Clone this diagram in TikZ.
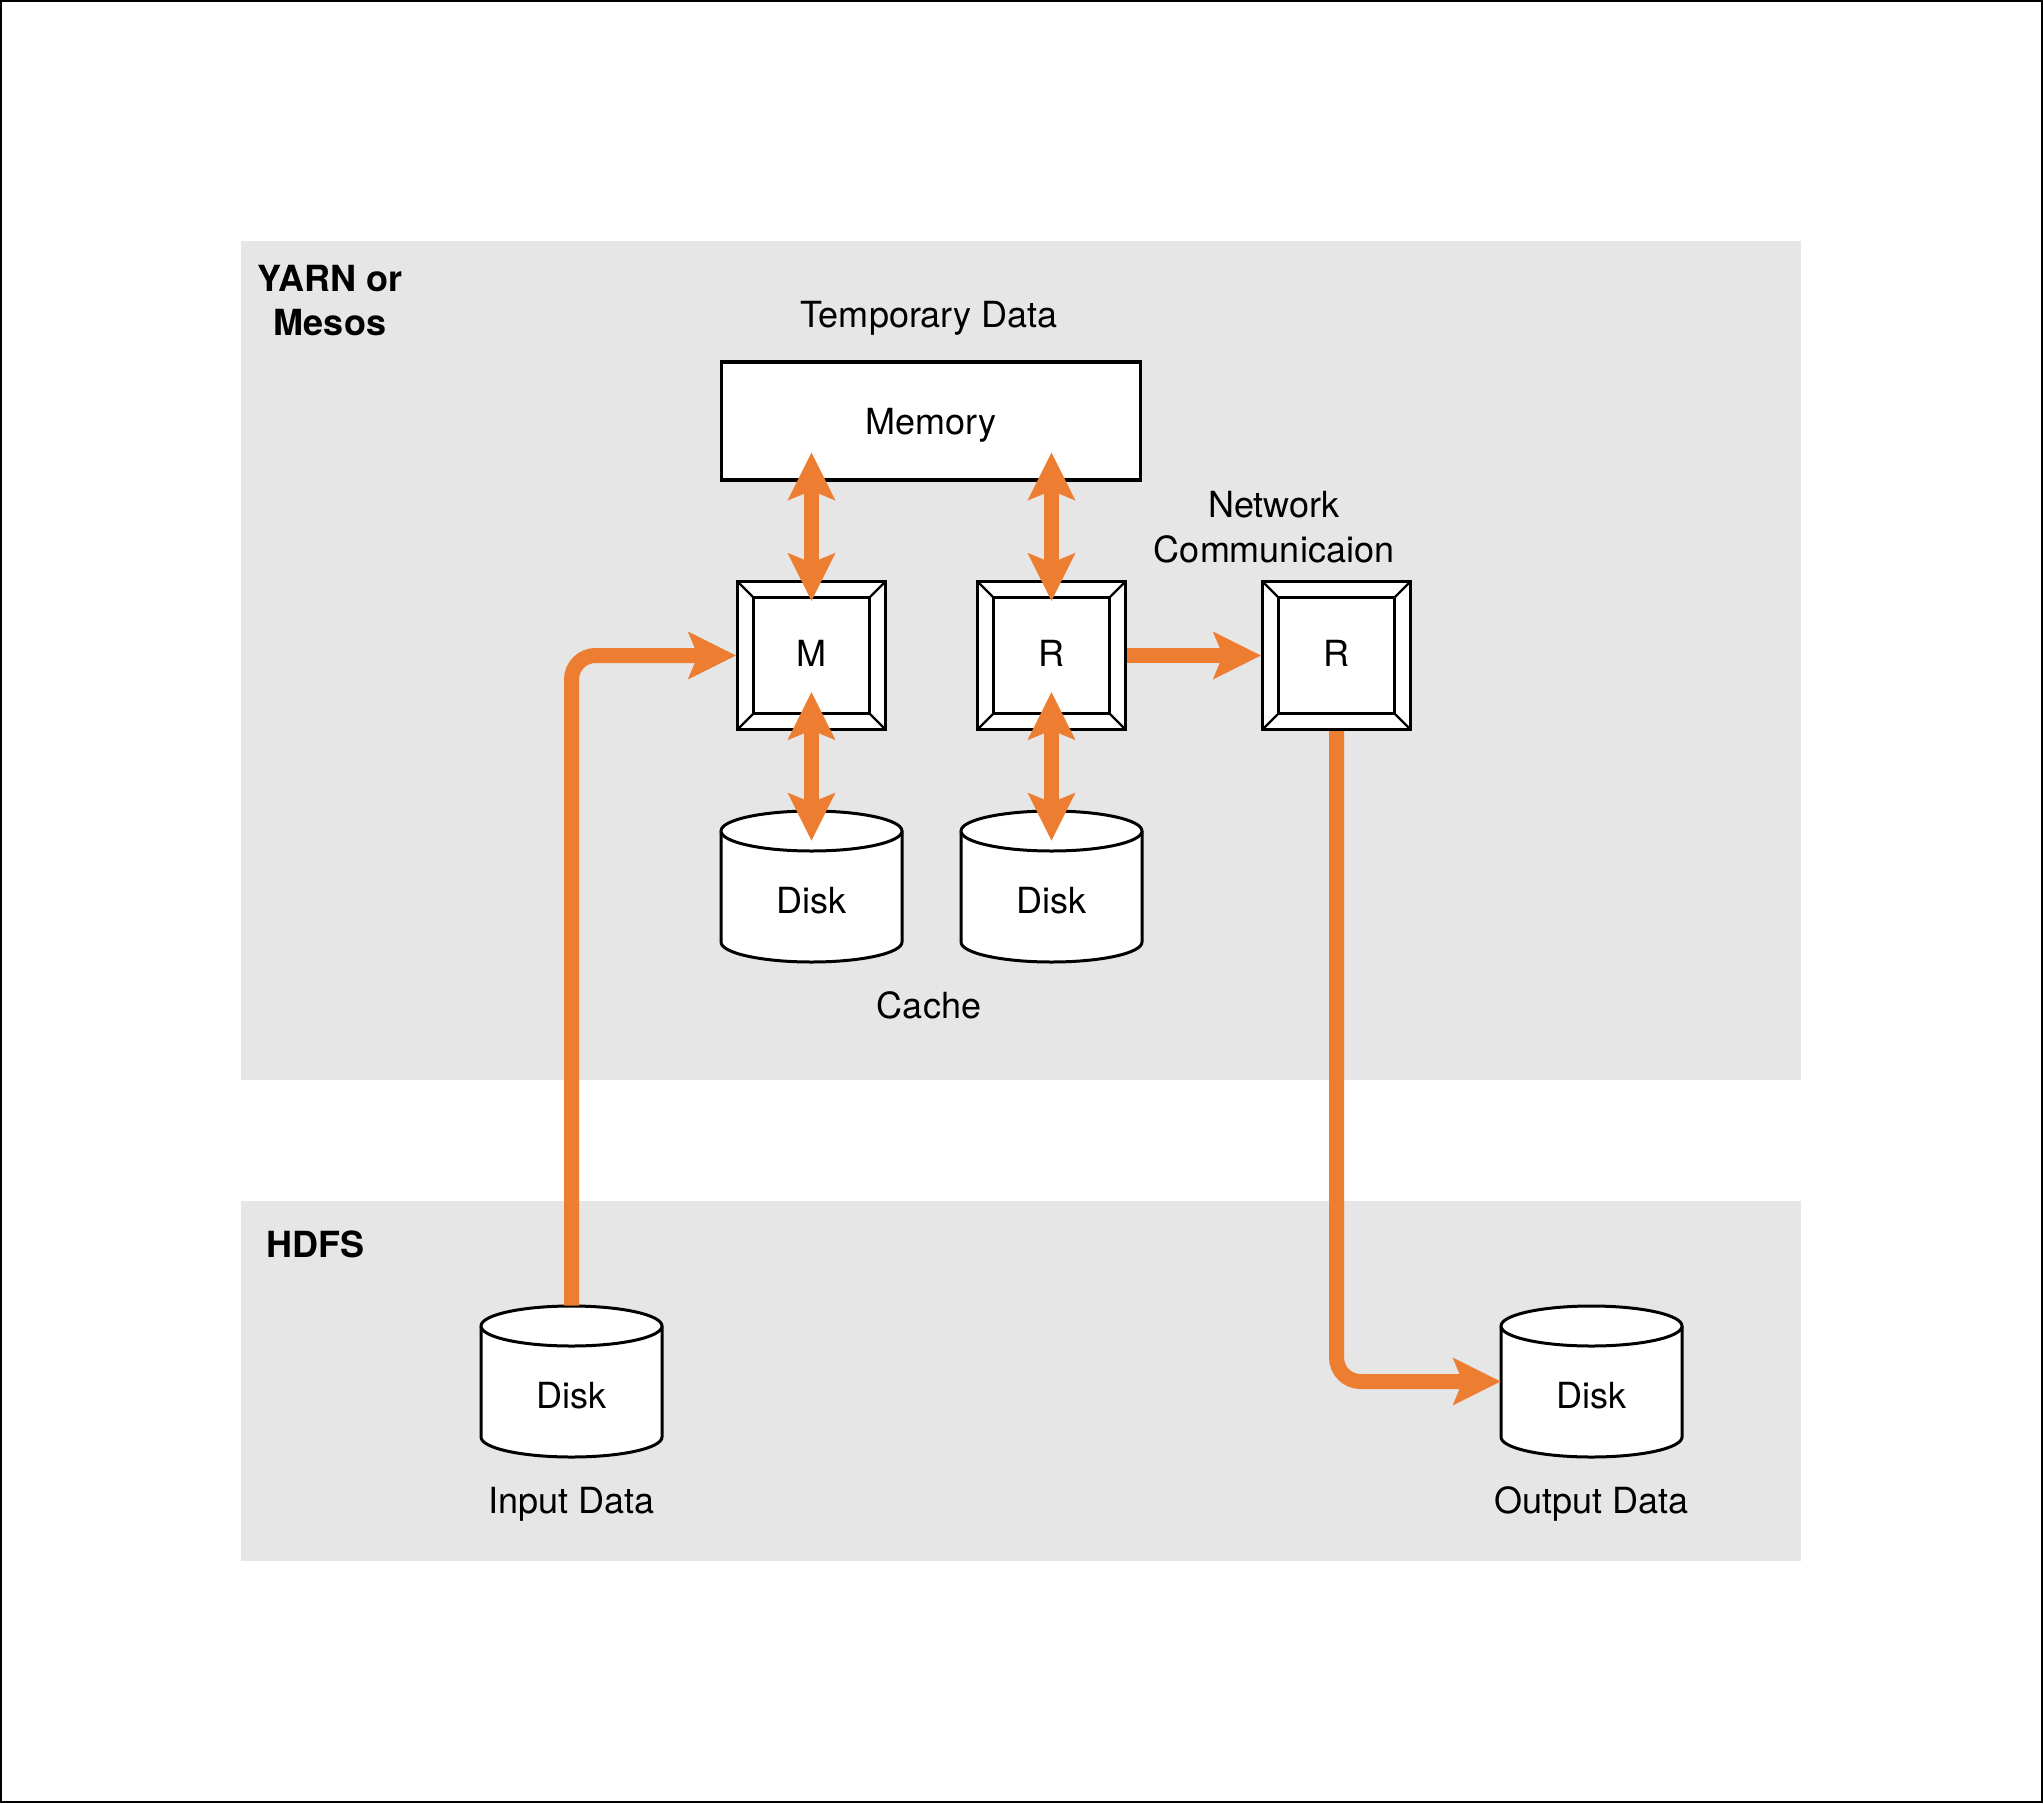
\documentclass[tikz,border=0pt]{standalone}
\usepackage{fontspec}
\setmainfont{TeX Gyre Heros}
\usetikzlibrary{arrows.meta}
\definecolor{flowc}{HTML}{ED7D31}
\definecolor{panelc}{HTML}{E6E6E6}

% Cylinder-shaped disk: #1 name, #2 centre x, #3 centre y (in px units)
\newcommand\cyldisk[3]{%
  \filldraw[diskline] (#2-90.5,#3-55.5) -- (#2-90.5,#3+55.5)
    .. controls (#2-90.5,#3+66.55) and (#2-49.98,#3+75.5) .. (#2,#3+75.5)
    .. controls (#2+49.98,#3+75.5) and (#2+90.5,#3+66.55) .. (#2+90.5,#3+55.5)
    -- (#2+90.5,#3-55.5)
    .. controls (#2+90.5,#3-66.55) and (#2+49.98,#3-75.5) .. (#2,#3-75.5)
    .. controls (#2-49.98,#3-75.5) and (#2-90.5,#3-66.55) .. (#2-90.5,#3-55.5) -- cycle;
  \draw[diskline] (#2-90.5,#3-55.5)
    .. controls (#2-90.5,#3-44.45) and (#2-49.98,#3-35.5) .. (#2,#3-35.5)
    .. controls (#2+49.98,#3-35.5) and (#2+90.5,#3-44.45) .. (#2+90.5,#3-55.5);
  \node[diskspot, label={[lbl,yshift=-7.2pt]center:Disk}] (#1) at (#2,#3) {};
}

\begin{document}
\begin{tikzpicture}[x=0.5pt,y=-0.5pt,
  lbl/.style={font=\fontsize{18}{22.5}\selectfont, align=center, inner sep=0pt},
  title/.style={lbl, font=\fontsize{18}{22}\selectfont\bfseries},
  panel/.style={fill=panelc, draw=none},
  diskline/.style={draw=black, fill=white, line width=1.5pt, line join=round},
  diskspot/.style={minimum width=90.5pt, minimum height=75.5pt, inner sep=0pt},
  membox/.style={draw, fill=white, line width=1.6pt, minimum width=209.5pt,
    minimum height=59pt, inner sep=0pt, text depth=0pt,
    font=\fontsize{18}{22}\selectfont},
  bevel/.style={draw, fill=white, line width=1.7pt, minimum size=74pt, inner sep=0pt,
    text depth=2.5pt, font=\fontsize{18}{22}\selectfont,
    path picture={
      \draw[line width=1.7pt]
        ([shift={(8pt,-8pt)}]path picture bounding box.north west) rectangle
        ([shift={(-8pt,8pt)}]path picture bounding box.south east);
      \foreach \c/\dx/\dy in {north west/8/-8, north east/-8/-8,
                              south west/8/8, south east/-8/8}
        \draw[line width=1.2pt] (path picture bounding box.\c) -- ++(\dx pt,\dy pt);
    }},
  tip/.tip={Stealth[length=24pt, width=24pt, inset=5pt, line width=0pt]},
  flow/.style={draw=flowc, fill=none, line width=7.5pt, -{tip[flowc]}},
  dflow/.style={draw=flowc, line width=7.5pt, {tip[flowc]}-{tip[flowc]}},
]
\useasboundingbox (0,0) rectangle (2043,1803);
\fill[white] (0,0) rectangle (2043,1803);
\draw[line width=1pt] (1,1) rectangle (2042,1802);

% background panels
\path[panel] (241,241) rectangle (1801,1080);
\path[panel] (241,1201) rectangle (1801,1561);
\node[title] (yarn) at (330,301) {YARN or\\Mesos};
\node[title, anchor=west] (hdfs) at (266,1244) {HDFS};

% memory and tasks
\node[lbl] (tmp) at (929,318) {Temporary Data};
\node[membox] (mem) at (931,421) {Memory};
\node[bevel] (M) at (811.5,655.5) {M};
\node[bevel] (R1) at (1051.5,655.5) {R};
\node[bevel] (R2) at (1336.5,655.5) {R};
\node[lbl] (net) at (1274,527) {Network\\Communicaion};

% disks
\cyldisk{d1}{811.5}{886.5}
\cyldisk{d2}{1051.5}{886.5}
\node[lbl] (cache) at (929,1005) {Cache};
\cyldisk{din}{571.5}{1381.5}
\cyldisk{dout}{1591.5}{1381.5}
\node[lbl] (inlbl) at (571.5,1504) {Input Data};
\node[lbl] (outlbl) at (1591.5,1504) {Output Data};

% data flow
\draw[dflow] ([yshift=14.5pt]M.north |- mem.south) -- ([yshift=-10.5pt]M.north);
\draw[dflow] ([yshift=14.5pt]R1.north |- mem.south) -- ([yshift=-10.5pt]R1.north);
\draw[dflow] ([yshift=19.5pt]M.south) -- ([yshift=-15pt]d1.north);
\draw[dflow] ([yshift=19.5pt]R1.south) -- ([yshift=-15pt]d2.north);
\draw[flow] (R1.east) -- (R2.west);
\draw[flow, rounded corners=12pt] (din.north) |- (M.west);
\draw[flow, rounded corners=12pt] (R2.south) |- (dout.west);
\end{tikzpicture}
\end{document}
